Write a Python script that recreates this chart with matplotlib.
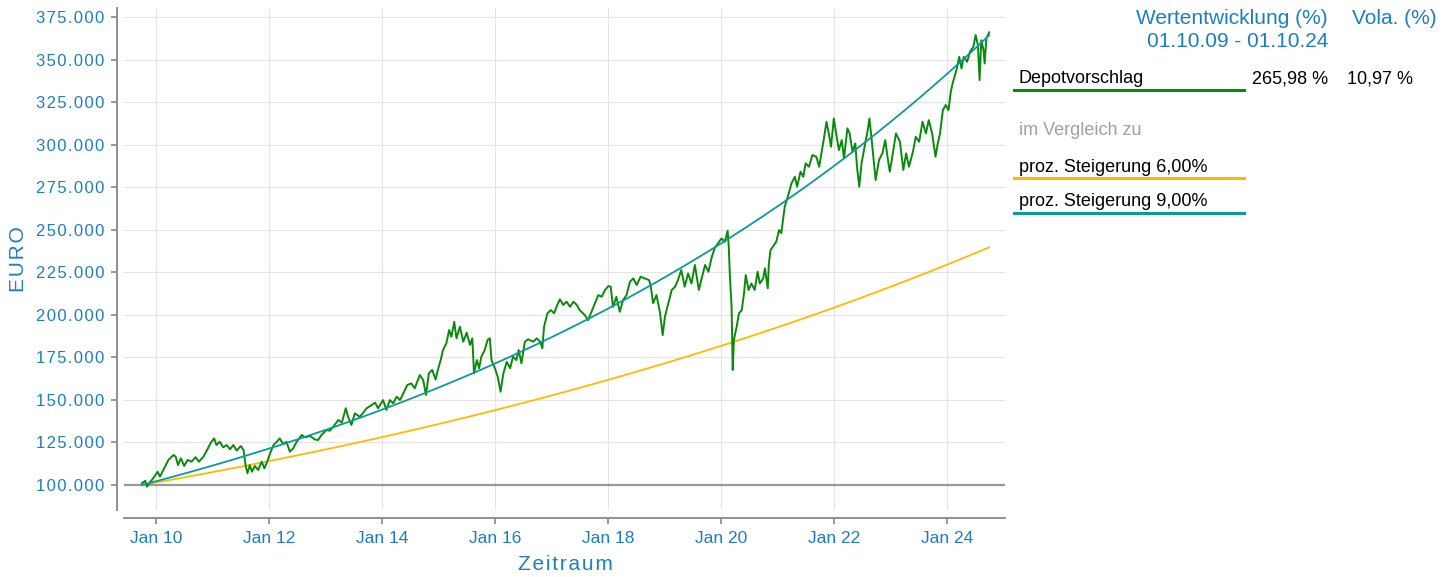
import numpy as np
import matplotlib
matplotlib.use("Agg")
import matplotlib.pyplot as plt
from matplotlib.ticker import FuncFormatter, MultipleLocator
from matplotlib.lines import Line2D

plt.rcParams['font.family'] = ['Liberation Sans', 'DejaVu Sans']

# Depotvorschlag (decimal year, value in 1000 EUR)
depot_dates = [
    2009.75, 2009.81, 2009.84, 2009.89, 2009.95, 2010.03, 2010.07, 2010.13, 2010.22, 2010.31,
    2010.35, 2010.39, 2010.44, 2010.50, 2010.56, 2010.63, 2010.70, 2010.76, 2010.84, 2010.92,
    2010.97, 2011.03, 2011.07, 2011.13, 2011.19, 2011.25, 2011.31, 2011.37, 2011.43, 2011.50,
    2011.55, 2011.59, 2011.62, 2011.66, 2011.70, 2011.75, 2011.81, 2011.87, 2011.92, 2011.98,
    2012.02, 2012.08, 2012.14, 2012.19, 2012.25, 2012.31, 2012.37, 2012.43, 2012.49, 2012.58,
    2012.64, 2012.73, 2012.81, 2012.87, 2012.93, 2013.02, 2013.08, 2013.16, 2013.23, 2013.29,
    2013.36, 2013.40, 2013.46, 2013.52, 2013.61, 2013.73, 2013.82, 2013.88, 2013.93, 2014.02,
    2014.08, 2014.14, 2014.20, 2014.26, 2014.32, 2014.38, 2014.45, 2014.52, 2014.58, 2014.67,
    2014.73, 2014.78, 2014.83, 2014.89, 2014.95, 2014.99, 2015.04, 2015.08, 2015.14, 2015.19,
    2015.23, 2015.28, 2015.32, 2015.38, 2015.44, 2015.50, 2015.56, 2015.60, 2015.63, 2015.68,
    2015.72, 2015.76, 2015.82, 2015.87, 2015.91, 2015.94, 2016.00, 2016.05, 2016.10, 2016.15,
    2016.21, 2016.27, 2016.32, 2016.38, 2016.42, 2016.47, 2016.53, 2016.59, 2016.68, 2016.74,
    2016.80, 2016.84, 2016.87, 2016.93, 2016.99, 2017.05, 2017.09, 2017.15, 2017.21, 2017.27,
    2017.33, 2017.39, 2017.45, 2017.50, 2017.59, 2017.65, 2017.71, 2017.77, 2017.83, 2017.89,
    2017.95, 2018.01, 2018.05, 2018.09, 2018.15, 2018.21, 2018.27, 2018.33, 2018.39, 2018.45,
    2018.51, 2018.58, 2018.65, 2018.73, 2018.76, 2018.80, 2018.86, 2018.92, 2018.97, 2019.01,
    2019.07, 2019.13, 2019.19, 2019.24, 2019.30, 2019.36, 2019.42, 2019.48, 2019.54, 2019.61,
    2019.66, 2019.72, 2019.78, 2019.84, 2019.89, 2019.95, 2020.01, 2020.07, 2020.12, 2020.14,
    2020.16, 2020.19, 2020.21, 2020.23, 2020.28, 2020.32, 2020.37, 2020.41, 2020.44, 2020.49,
    2020.54, 2020.60, 2020.65, 2020.69, 2020.75, 2020.78, 2020.83, 2020.85, 2020.88, 2020.94,
    2020.98, 2021.03, 2021.07, 2021.13, 2021.19, 2021.25, 2021.31, 2021.35, 2021.41, 2021.46,
    2021.50, 2021.56, 2021.62, 2021.69, 2021.74, 2021.78, 2021.82, 2021.87, 2021.91, 2021.95,
    2022.00, 2022.05, 2022.09, 2022.14, 2022.18, 2022.24, 2022.28, 2022.33, 2022.38, 2022.41,
    2022.45, 2022.49, 2022.55, 2022.60, 2022.63, 2022.67, 2022.71, 2022.74, 2022.80, 2022.86,
    2022.91, 2022.95, 2022.99, 2023.03, 2023.10, 2023.17, 2023.23, 2023.28, 2023.33, 2023.40,
    2023.45, 2023.51, 2023.57, 2023.63, 2023.68, 2023.74, 2023.80, 2023.84, 2023.88, 2023.93,
    2023.98, 2024.03, 2024.07, 2024.11, 2024.17, 2024.22, 2024.26, 2024.30, 2024.36, 2024.41,
    2024.47, 2024.51, 2024.55, 2024.58, 2024.61, 2024.65, 2024.67, 2024.70, 2024.75,
]
depot_values = [
    101.0, 102.5, 99.0, 101.4, 103.9, 107.8, 104.9, 108.8, 114.7, 117.6,
    116.6, 111.7, 115.7, 111.2, 114.7, 113.7, 116.3, 113.7, 116.6, 121.5,
    124.9, 127.4, 123.5, 125.4, 122.1, 123.5, 121.0, 123.5, 120.2, 122.9,
    120.6, 110.8, 106.9, 111.7, 107.8, 111.2, 108.8, 113.7, 109.8, 114.7,
    118.6, 123.5, 125.4, 127.4, 124.1, 125.4, 119.6, 121.5, 125.4, 129.4,
    128.0, 128.8, 126.8, 126.4, 129.4, 132.3, 131.9, 135.3, 138.2, 136.6,
    145.1, 140.1, 135.3, 142.1, 140.0, 145.1, 147.0, 148.4, 145.1, 149.9,
    144.1, 149.9, 148.0, 151.9, 149.9, 153.9, 158.8, 159.7, 156.8, 164.6,
    161.7, 152.9, 165.6, 167.6, 162.0, 167.6, 173.4, 179.3, 183.2, 191.1,
    187.1, 195.9, 186.2, 193.0, 184.2, 189.5, 182.3, 186.2, 165.6, 173.4,
    168.6, 175.4, 179.3, 185.2, 186.2, 173.4, 168.6, 163.6, 154.8, 165.6,
    172.4, 168.6, 175.4, 173.4, 179.3, 171.5, 184.2, 185.6, 184.2, 186.2,
    184.2, 180.3, 193.0, 200.9, 202.8, 200.9, 204.7, 209.1, 205.8, 207.7,
    204.7, 207.7, 205.8, 202.8, 199.9, 196.9, 201.8, 206.8, 211.6, 210.6,
    214.6, 216.9, 216.5, 204.7, 210.6, 201.8, 208.7, 211.6, 219.4, 221.4,
    217.5, 222.4, 221.4, 220.4, 216.5, 206.8, 211.6, 201.8, 188.1, 198.9,
    206.8, 214.6, 216.5, 220.4, 226.3, 216.5, 224.3, 218.4, 229.3, 214.6,
    221.4, 229.3, 225.3, 234.1, 239.1, 242.0, 244.9, 242.9, 249.4, 240.0,
    222.4, 204.7, 167.6, 185.2, 193.0, 200.9, 202.8, 212.6, 223.4, 214.6,
    218.4, 214.6, 225.3, 218.4, 221.4, 227.3, 215.6, 230.3, 238.1, 241.0,
    242.9, 249.8, 248.0, 263.5, 270.0, 277.2, 281.1, 275.3, 284.1, 281.1,
    289.0, 287.0, 293.9, 292.9, 287.0, 294.9, 302.7, 313.4, 306.6, 298.8,
    315.4, 304.6, 296.8, 302.7, 291.9, 309.6, 306.6, 295.8, 300.7, 287.0,
    275.3, 289.0, 299.8, 308.6, 315.4, 302.7, 289.0, 279.2, 291.0, 294.9,
    302.7, 292.9, 284.1, 291.9, 306.6, 301.7, 285.1, 294.9, 287.0, 295.8,
    304.6, 301.7, 313.4, 306.6, 314.4, 306.6, 292.9, 300.7, 306.6, 320.3,
    323.3, 320.3, 331.1, 336.9, 343.8, 351.6, 344.8, 351.6, 348.7, 354.6,
    357.5, 364.4, 358.5, 337.9, 361.4, 355.6, 347.7, 362.4, 366.0,
]

# comparison lines: constant yearly growth from the start value
start_value = 100000
start_year = 2009.75
end_year = 2024.75
growth_rates = [0.06, 0.09]
growth_labels = ["proz. Steigerung 6,00%", "proz. Steigerung 9,00%"]

header_perf = "Wertentwicklung (%)"
header_period = "01.10.09 - 01.10.24"
header_vola = "Vola. (%)"
depot_perf = "265,98 %"
depot_vola = "10,97 %"

year_ticks = [2010, 2012, 2014, 2016, 2018, 2020, 2022, 2024]

GREEN = '#0a8a0a'
ORANGE = '#ffba00'
TEAL = '#0b9a9a'
BLUE = '#1b7fbf'
GREY_TXT = '#a0a0aa'

W, H = 1454, 577
fig = plt.figure(figsize=(W / 100, H / 100), dpi=100)


def px(x, y):
    return x / W, 1 - y / H


def spaced(s):
    # the original uses some letter spacing, hair spaces come close
    return "\u200a".join(s)


ax = fig.add_axes([124 / W, 1 - 510 / H, (1005 - 124) / W, (510 - 8) / H])

t = np.linspace(start_year, end_year, 300)
curves = {}
for rate in growth_rates:
    curves[rate] = start_value * (1 + rate) ** (t - start_year)

ax.axhline(start_value, color='#999999', lw=1.6, zorder=2)
ax.plot(t, curves[0.06], color=ORANGE, lw=1.3, zorder=3)
ax.plot(depot_dates, np.array(depot_values) * 1000, color=GREEN, lw=1.4, zorder=4)
ax.plot(t, curves[0.09], color=TEAL, lw=1.3, zorder=5)

ax.set_xlim(2009.434, 2025.03)
ax.set_ylim(85300, 380300)
ax.yaxis.set_major_locator(MultipleLocator(25000))
ax.yaxis.set_major_formatter(FuncFormatter(lambda v, p: spaced(f"{v:,.0f}".replace(",", "."))))
ax.set_xticks(year_ticks)
ax.set_xticklabels([f"Jan {y % 100:02d}" for y in year_ticks])

ax.grid(True, color='#e4e4e4', lw=0.8, zorder=0)
ax.set_axisbelow(True)

for side in ['top', 'right']:
    ax.spines[side].set_visible(False)
ax.spines['left'].set_position(('outward', 5))
ax.spines['bottom'].set_position(('outward', 6))
for side in ['left', 'bottom']:
    ax.spines[side].set_color('#888888')
    ax.spines[side].set_linewidth(1.3)

ax.tick_params(axis='both', colors='#888888', labelcolor=BLUE,
               width=1.2, length=4)
ax.tick_params(axis='y', pad=5, labelsize=12)
ax.tick_params(axis='x', pad=5, labelsize=12.5)

fig.text(*px(18, 259), spaced("EURO"), rotation=90, ha='center', va='center',
         color=BLUE, fontsize=15)
fig.text(*px(565, 564), spaced("Zeitraum"), ha='center', va='center',
         color=BLUE, fontsize=15)

# legend table on the right
fig.text(*px(1328, 24), header_perf, ha='right', va='baseline', color=BLUE, fontsize=15)
fig.text(*px(1328, 47), header_period, ha='right', va='baseline', color=BLUE, fontsize=15)
fig.text(*px(1437, 24), header_vola, ha='right', va='baseline', color=BLUE, fontsize=15)

fig.text(*px(1019, 83), "Depotvorschlag", ha='left', va='baseline', color='black', fontsize=13)
fig.text(*px(1328, 83), depot_perf, ha='right', va='baseline', color='black', fontsize=13)
fig.text(*px(1413, 83), depot_vola, ha='right', va='baseline', color='black', fontsize=13)
fig.text(*px(1019, 135), "im Vergleich zu", ha='left', va='baseline', color=GREY_TXT, fontsize=13)
fig.text(*px(1019, 172), growth_labels[0], ha='left', va='baseline', color='black', fontsize=13)
fig.text(*px(1019, 206), growth_labels[1], ha='left', va='baseline', color='black', fontsize=13)

for y, c in [(90, GREEN), (178, ORANGE), (213, TEAL)]:
    x0, y0 = px(1014, y)
    x1, _ = px(1244, y)
    fig.add_artist(Line2D([x0, x1], [y0, y0], color=c, lw=2.2, transform=fig.transFigure))

fig.savefig("out.png", dpi=100)
